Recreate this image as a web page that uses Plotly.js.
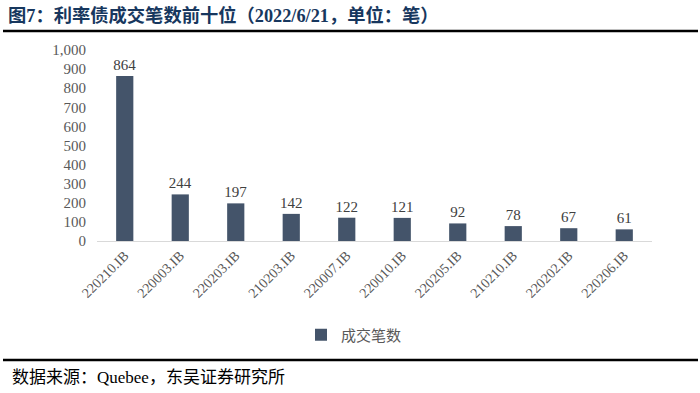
<!DOCTYPE html>
<html><head><meta charset="utf-8">
<script src="https://cdn.plot.ly/plotly-3.0.1.min.js"></script>
<style>html,body{margin:0;padding:0;background:#fff;}</style>
</head><body>
<div id="chart" style="width:700px;height:393px;"></div>
<script>
const categories = ["220210.IB","220003.IB","220203.IB","210203.IB","220007.IB","220010.IB","220205.IB","210210.IB","220202.IB","220206.IB"];
const tradeCounts = [864,244,197,142,122,121,92,78,67,61];
const seriesName = "成交笔数";
const yTicks = [0,100,200,300,400,500,600,700,800,900,1000];

const ML = 97, MR = 48, MT = 50, MB = 152, W = 700, H = 393;
const pw = W - ML - MR, ph = H - MT - MB;
const px = x => (x - ML) / pw;
const py = y => (H - MB - y) / ph;

const serif = "'Liberation Serif','Times New Roman','Noto Sans CJK SC',serif";
const trace = {
  type: 'bar', x: categories, y: tradeCounts, name: seriesName,
  marker: {color: '#44546a'}, width: 0.31,
  text: tradeCounts.map(String), textposition: 'outside', constraintext: 'none',
  textfont: {family: serif, size: 15, color: '#404040'},
  cliponaxis: false, showlegend: true
};
const layout = {
  width: W, height: H,
  margin: {l: ML, r: MR, t: MT, b: MB},
  paper_bgcolor: '#fff', plot_bgcolor: '#fff',
  font: {family: serif, color: '#595959'},
  xaxis: {type: 'category', tickangle: -45, tickfont: {family: serif, size: 14, color: '#595959'},
    showline: true, linecolor: '#d9d9d9', linewidth: 1, ticks: '', showgrid: false, zeroline: false},
  yaxis: {range: [0, 1000], tickvals: yTicks, tickformat: ',', tickfont: {family: serif, size: 15, color: '#595959'},
    showgrid: false, zeroline: false, showline: false, ticks: '', ticklen: 0, ticklabelstandoff: 10, automargin: false},
  showlegend: true,
  legend: {orientation: 'h', x: px(354), xanchor: 'center', y: py(335), yanchor: 'middle',
    font: {family: "'Noto Sans CJK SC',sans-serif", size: 15, color: '#595959'}, itemwidth: 30},
  shapes: [
    {type: 'line', xref: 'paper', yref: 'paper', x0: px(3), x1: px(698), y0: py(31), y1: py(31), line: {color: '#000', width: 2.5}},
    {type: 'line', xref: 'paper', yref: 'paper', x0: px(3), x1: px(698), y0: py(360), y1: py(360), line: {color: '#000', width: 2.5}}
  ],
  annotations: [
    {xref: 'paper', yref: 'paper', x: px(6), y: py(16), xanchor: 'left', yanchor: 'middle', showarrow: false,
      text: '<b>图7：利率债成交笔数前十位（2022/6/21，单位：笔）</b>',
      font: {family: "'Liberation Serif','Noto Sans CJK SC',serif", size: 18.3, color: '#17375e'}},
    {xref: 'paper', yref: 'paper', x: px(10), y: py(377), xanchor: 'left', yanchor: 'middle', showarrow: false,
      text: '数据来源：Quebee，东吴证券研究所',
      font: {family: "'Liberation Serif','Noto Sans CJK SC',serif", size: 17, color: '#000'}}
  ]
};
Plotly.newPlot('chart', [trace], layout, {displayModeBar: false, staticPlot: true});
</script>
</body></html>
